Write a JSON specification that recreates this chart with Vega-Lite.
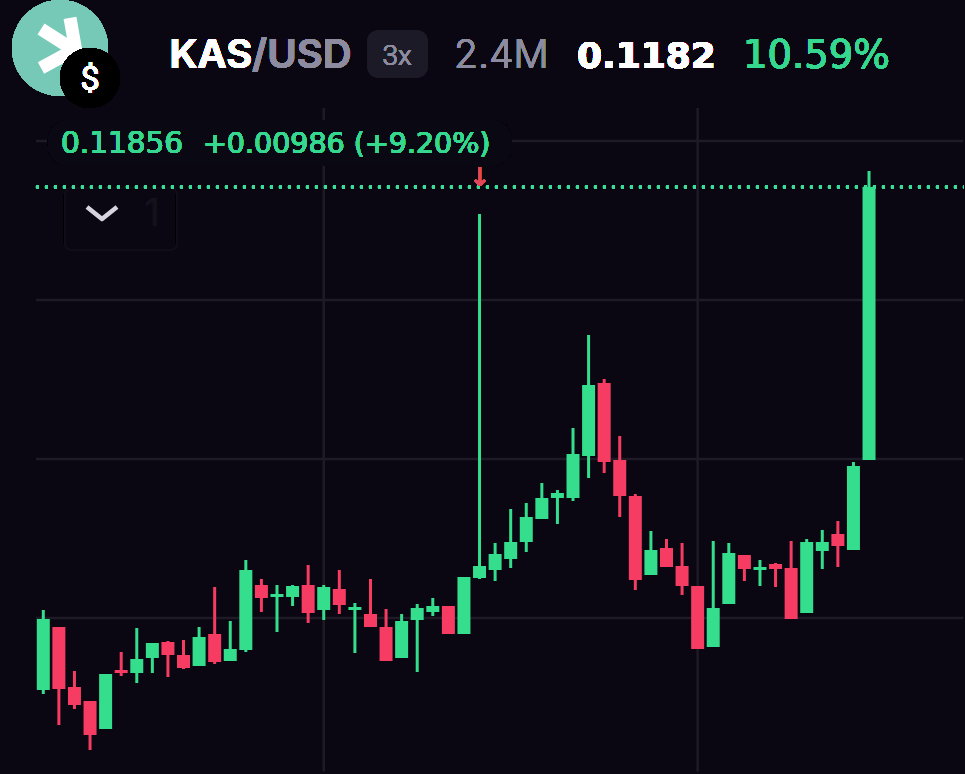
{
  "$schema": "https://vega.github.io/schema/vega-lite/v6.json",
  "autosize": {"type": "fit", "contains": "padding"},
  "width": 965,
  "height": 774,
  "padding": 0,
  "background": "#0a0712",
  "config": {
    "view": {"stroke": null},
    "axis": {"disable": true},
    "text": {"font": "Inter"}
  },
  "datasets": {
    "candles": [
      {"i":0,"open":0.100391,"high":0.103281,"low":0.100247,"close":0.102956},
      {"i":1,"open":0.102667,"high":0.102667,"low":0.099127,"close":0.100427},
      {"i":2,"open":0.100500,"high":0.101077,"low":0.099705,"close":0.099849},
      {"i":3,"open":0.099994,"high":0.099994,"low":0.098224,"close":0.098766},
      {"i":4,"open":0.098983,"high":0.100969,"low":0.098983,"close":0.100969},
      {"i":5,"open":0.101114,"high":0.101764,"low":0.100897,"close":0.101005},
      {"i":6,"open":0.101005,"high":0.102631,"low":0.100644,"close":0.101511},
      {"i":7,"open":0.101547,"high":0.102089,"low":0.101005,"close":0.102089},
      {"i":8,"open":0.102125,"high":0.102161,"low":0.100861,"close":0.101655},
      {"i":9,"open":0.101655,"high":0.102197,"low":0.101150,"close":0.101186},
      {"i":10,"open":0.101258,"high":0.102667,"low":0.101258,"close":0.102306},
      {"i":11,"open":0.102414,"high":0.104112,"low":0.101330,"close":0.101403},
      {"i":12,"open":0.101439,"high":0.102883,"low":0.101439,"close":0.101872},
      {"i":13,"open":0.101836,"high":0.105087,"low":0.101764,"close":0.104726},
      {"i":14,"open":0.104184,"high":0.104401,"low":0.103209,"close":0.103714},
      {"i":15,"open":0.103750,"high":0.104184,"low":0.102486,"close":0.103859},
      {"i":16,"open":0.103750,"high":0.104184,"low":0.103425,"close":0.104148},
      {"i":17,"open":0.104184,"high":0.104906,"low":0.102811,"close":0.103172},
      {"i":18,"open":0.103281,"high":0.104184,"low":0.102920,"close":0.104112},
      {"i":19,"open":0.104039,"high":0.104726,"low":0.103136,"close":0.103461},
      {"i":20,"open":0.103281,"high":0.103534,"low":0.101728,"close":0.103389},
      {"i":21,"open":0.103136,"high":0.104401,"low":0.102667,"close":0.102667},
      {"i":22,"open":0.102667,"high":0.103317,"low":0.101439,"close":0.101439},
      {"i":23,"open":0.101547,"high":0.103136,"low":0.101547,"close":0.102883},
      {"i":24,"open":0.102920,"high":0.103498,"low":0.101041,"close":0.103353},
      {"i":25,"open":0.103209,"high":0.103714,"low":0.103064,"close":0.103425},
      {"i":26,"open":0.103425,"high":0.103425,"low":0.102414,"close":0.102414},
      {"i":27,"open":0.102414,"high":0.104473,"low":0.102414,"close":0.104473},
      {"i":28,"open":0.104437,"high":0.117584,"low":0.104401,"close":0.104870},
      {"i":29,"open":0.104726,"high":0.105701,"low":0.104328,"close":0.105304},
      {"i":30,"open":0.105123,"high":0.106929,"low":0.104798,"close":0.105737},
      {"i":31,"open":0.105737,"high":0.107146,"low":0.105376,"close":0.106640},
      {"i":32,"open":0.106568,"high":0.107868,"low":0.106568,"close":0.107326},
      {"i":33,"open":0.107326,"high":0.107615,"low":0.106387,"close":0.107507},
      {"i":34,"open":0.107326,"high":0.109855,"low":0.107218,"close":0.108916},
      {"i":35,"open":0.108843,"high":0.113214,"low":0.108049,"close":0.111408},
      {"i":36,"open":0.111480,"high":0.111625,"low":0.108229,"close":0.108627},
      {"i":37,"open":0.108699,"high":0.109566,"low":0.106640,"close":0.107398},
      {"i":38,"open":0.107398,"high":0.107471,"low":0.104003,"close":0.104364},
      {"i":39,"open":0.104545,"high":0.106134,"low":0.104545,"close":0.105448},
      {"i":40,"open":0.105520,"high":0.105845,"low":0.104834,"close":0.104834},
      {"i":41,"open":0.104870,"high":0.105701,"low":0.103823,"close":0.104148},
      {"i":42,"open":0.104148,"high":0.104148,"low":0.101872,"close":0.101872},
      {"i":43,"open":0.101944,"high":0.105773,"low":0.101944,"close":0.103353},
      {"i":44,"open":0.103498,"high":0.105701,"low":0.103498,"close":0.105340},
      {"i":45,"open":0.105267,"high":0.105267,"low":0.104328,"close":0.104762},
      {"i":46,"open":0.104726,"high":0.105087,"low":0.104148,"close":0.104834},
      {"i":47,"open":0.104942,"high":0.104978,"low":0.104112,"close":0.104762},
      {"i":48,"open":0.104798,"high":0.105773,"low":0.102956,"close":0.102956},
      {"i":49,"open":0.103172,"high":0.105845,"low":0.103172,"close":0.105737},
      {"i":50,"open":0.105412,"high":0.106170,"low":0.104762,"close":0.105737},
      {"i":51,"open":0.106026,"high":0.106495,"low":0.104834,"close":0.105592},
      {"i":52,"open":0.105448,"high":0.108627,"low":0.105448,"close":0.108482},
      {"i":53,"open":0.108699,"high":0.119137,"low":0.108699,"close":0.118560}
    ],
    "hgrid": [{"price":0.120221},{"price":0.114478},{"price":0.108735},{"price":0.102992}],
    "vgrid": [{"i":18},{"i":42}],
    "logo_k": [
      {"part":"arm","n":0,"i":-0.148,"price":0.124267},
      {"part":"arm","n":1,"i":1.970,"price":0.123508},
      {"part":"arm","n":2,"i":-0.148,"price":0.122858},
      {"part":"stem","n":0,"i":1.714,"price":0.124664},
      {"part":"stem","n":1,"i":2.099,"price":0.123436}
    ],
    "chevron": [
      {"i":2.805,"price":0.117837},
      {"i":3.768,"price":0.117404},
      {"i":4.731,"price":0.117837}
    ]
  },
  "data": {"name": "candles"},
  "layer": [
    {
      "data": {"name": "hgrid"},
      "mark": {"type": "rule", "color": "#1e1b26", "strokeWidth": 2.5},
      "encoding": {
        "x": {"datum": -0.469, "type": "quantitative", "scale": {"domain": [-2.779, 59.16], "nice": false, "zero": false, "padding": 0}},
        "x2": {"datum": 59.05},
        "y": {"field": "price", "type": "quantitative", "scale": {"domain": [0.097357, 0.125314], "nice": false, "zero": false}}
      }
    },
    {
      "data": {"name": "vgrid"},
      "mark": {"type": "rule", "color": "#1e1b26", "strokeWidth": 2.5},
      "encoding": {"x": {"field": "i", "type": "quantitative"}, "y": {"datum": 0.121413, "type": "quantitative"}, "y2": {"datum": 0.09745}}
    },
    {
      "mark": {"type": "bar", "color": "#0b0813", "opacity": 0.85, "cornerRadius": 20},
      "encoding": {"x": {"datum": 0.30, "type": "quantitative"}, "x2": {"datum": 30.08}, "y": {"datum": 0.120980, "type": "quantitative"}, "y2": {"datum": 0.119318}}
    },
    {
      "mark": {"type": "bar", "fillOpacity": 0, "stroke": "#100d18", "strokeWidth": 2, "cornerRadius": 6},
      "encoding": {"x": {"datum": 1.393, "type": "quantitative"}, "x2": {"datum": 8.581}, "y": {"datum": 0.118523, "type": "quantitative"}, "y2": {"datum": 0.116284}}
    },
    {
      "data": {"name": "chevron"},
      "mark": {"type": "line", "color": "#d6d4de", "strokeWidth": 4.5, "strokeJoin": "round"},
      "encoding": {"x": {"field": "i", "type": "quantitative"}, "y": {"field": "price", "type": "quantitative"}}
    },
    {
      "mark": {"type": "text", "text": "1", "color": "#14111c", "fontSize": 38, "align": "center", "baseline": "alphabetic"},
      "encoding": {"x": {"datum": 6.977, "type": "quantitative"}, "y": {"datum": 0.117151, "type": "quantitative"}}
    },
    {
      "mark": {"type": "rule", "color": "#3ddc97", "strokeWidth": 3, "strokeDash": [3, 6]},
      "encoding": {"x": {"datum": -0.469, "type": "quantitative"}, "x2": {"datum": 59.05}, "y": {"datum": 0.11856, "type": "quantitative"}}
    },
    {
      "mark": {"type": "rule", "strokeWidth": 3},
      "encoding": {
        "x": {"field": "i", "type": "quantitative"},
        "y": {"field": "high", "type": "quantitative"},
        "y2": {"field": "low"},
        "color": {"condition": {"test": "datum.open < datum.close", "value": "#34de8d"}, "value": "#f63c63"}
      }
    },
    {
      "mark": {"type": "bar", "size": 13},
      "encoding": {
        "x": {"field": "i", "type": "quantitative"},
        "y": {"field": "open", "type": "quantitative"},
        "y2": {"field": "close"},
        "color": {"condition": {"test": "datum.open < datum.close", "value": "#34de8d"}, "value": "#f63c63"}
      }
    },
    {
      "mark": {"type": "text", "text": "↓", "color": "#e0485a", "fontSize": 26, "font": "DejaVu Sans", "align": "center", "baseline": "alphabetic"},
      "encoding": {"x": {"datum": 28.03, "type": "quantitative"}, "y": {"datum": 0.1186, "type": "quantitative"}}
    },
    {
      "mark": {"type": "text", "text": "0.11856", "color": "#36d78f", "fontSize": 29.5, "font": "DejaVu Sans", "align": "left", "baseline": "alphabetic"},
      "encoding": {"x": {"datum": 1.136, "type": "quantitative"}, "y": {"datum": 0.119788, "type": "quantitative"}}
    },
    {
      "mark": {"type": "text", "text": "+0.00986 (+9.20%)", "color": "#36d78f", "fontSize": 28.5, "font": "DejaVu Sans", "align": "left", "baseline": "alphabetic"},
      "encoding": {"x": {"datum": 10.25, "type": "quantitative"}, "y": {"datum": 0.119788, "type": "quantitative"}}
    },
    {
      "mark": {"type": "point", "filled": true, "opacity": 1, "color": "#76c9b6", "size": 9216},
      "encoding": {"x": {"datum": 1.072, "type": "quantitative"}, "y": {"datum": 0.12358, "type": "quantitative"}}
    },
    {
      "data": {"name": "logo_k"},
      "mark": {"type": "line", "color": "#ffffff", "strokeWidth": 13, "strokeJoin": "bevel"},
      "encoding": {
        "x": {"field": "i", "type": "quantitative"},
        "y": {"field": "price", "type": "quantitative"},
        "detail": {"field": "part"},
        "order": {"field": "n"}
      }
    },
    {
      "mark": {"type": "point", "filled": true, "opacity": 1, "color": "#000000", "size": 3600},
      "encoding": {"x": {"datum": 2.997, "type": "quantitative"}, "y": {"datum": 0.122497, "type": "quantitative"}}
    },
    {
      "mark": {"type": "text", "text": "$", "color": "#ffffff", "fontSize": 34, "font": "Roboto", "fontWeight": 400, "align": "center", "baseline": "alphabetic"},
      "encoding": {"x": {"datum": 2.997, "type": "quantitative"}, "y": {"datum": 0.122063, "type": "quantitative"}}
    },
    {
      "mark": {"type": "text", "text": "KAS", "color": "#ffffff", "fontSize": 40, "fontWeight": 600, "align": "left", "baseline": "alphabetic"},
      "encoding": {"x": {"datum": 8.1, "type": "quantitative"}, "y": {"datum": 0.122858, "type": "quantitative"}}
    },
    {
      "mark": {"type": "text", "text": "/USD", "color": "#8d8ba0", "fontSize": 40, "fontWeight": 600, "align": "left", "baseline": "alphabetic"},
      "encoding": {"x": {"datum": 13.4, "type": "quantitative"}, "y": {"datum": 0.122858, "type": "quantitative"}}
    },
    {
      "mark": {"type": "bar", "color": "#1c1a26", "cornerRadius": 12},
      "encoding": {"x": {"datum": 20.78, "type": "quantitative"}, "x2": {"datum": 24.69}, "y": {"datum": 0.12423, "type": "quantitative"}, "y2": {"datum": 0.122497}}
    },
    {
      "mark": {"type": "text", "text": "3x", "color": "#8d8ba0", "fontSize": 28, "font": "Roboto", "fontWeight": 300, "align": "center", "baseline": "alphabetic"},
      "encoding": {"x": {"datum": 22.7, "type": "quantitative"}, "y": {"datum": 0.122966, "type": "quantitative"}}
    },
    {
      "mark": {"type": "text", "text": "2.4M", "color": "#8d8ba0", "fontSize": 39, "fontWeight": 300, "align": "left", "baseline": "alphabetic"},
      "encoding": {"x": {"datum": 26.36, "type": "quantitative"}, "y": {"datum": 0.122858, "type": "quantitative"}}
    },
    {
      "mark": {"type": "text", "text": "0.1182", "color": "#ffffff", "fontSize": 36, "font": "DejaVu Sans", "fontWeight": "bold", "align": "left", "baseline": "alphabetic"},
      "encoding": {"x": {"datum": 34.25, "type": "quantitative"}, "y": {"datum": 0.122858, "type": "quantitative"}}
    },
    {
      "mark": {"type": "text", "text": "10.59%", "color": "#36d78f", "fontSize": 38.5, "font": "DejaVu Sans", "align": "left", "baseline": "alphabetic"},
      "encoding": {"x": {"datum": 44.91, "type": "quantitative"}, "y": {"datum": 0.122858, "type": "quantitative"}}
    }
  ]
}
